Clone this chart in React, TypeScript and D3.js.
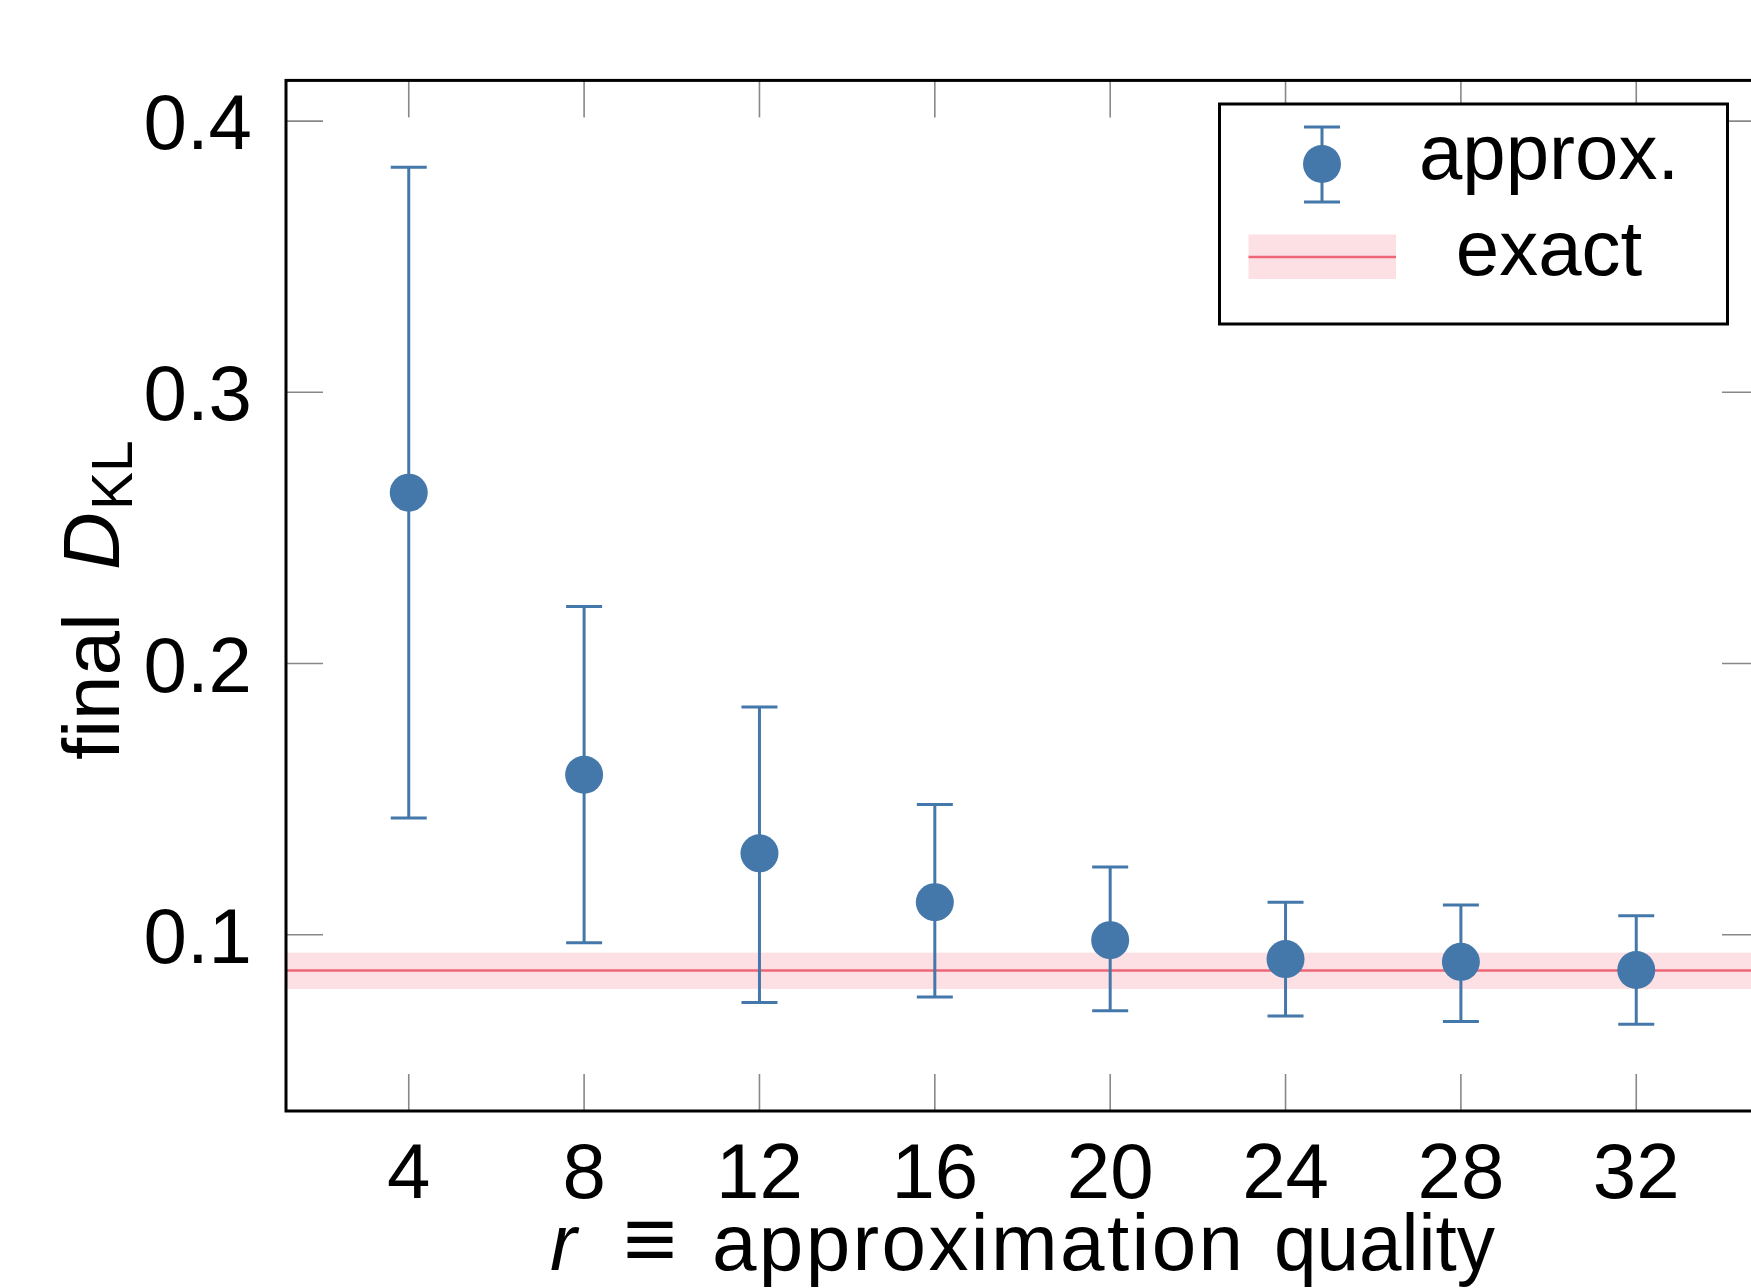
import { useEffect } from 'react';
import * as d3 from 'd3';

// approximation quality r and final KL divergence (mean with error bars)
const rValues = [4, 8, 12, 16, 20, 24, 28, 32];
const dklMean = [0.263, 0.159, 0.13, 0.112, 0.098, 0.091, 0.09, 0.087];
const dklUpper = [0.383, 0.221, 0.184, 0.148, 0.125, 0.112, 0.111, 0.107];
const dklLower = [0.143, 0.097, 0.075, 0.077, 0.072, 0.07, 0.068, 0.067];

// exact reference value and its band
const exactValue = [0.0868];
const exactBand = [0.08, 0.0934];

const xTicks = [4, 8, 12, 16, 20, 24, 28, 32];
const yTicks = [0.1, 0.2, 0.3, 0.4];

const W = 1751;
const H = 1288;
const BLUE = '#4477aa';
const RED = '#ee6677';
const FONT = '"Liberation Sans", Arial, sans-serif';

const App = () => {
  useEffect(() => {
    document.body.style.margin = '0';
    document.body.style.overflow = 'hidden';
  }, []);

  const x = d3.scaleLinear().domain([1.2, 34.8]).range([286, 1759]);
  const y = d3.scaleLinear().domain([0.035, 0.415]).range([1111, 80.4]);

  const [x0, x1] = x.range();
  const [y0, y1] = y.range();
  const tickLen = 37;
  const capW = 18;
  const rad = 19;

  const line = d3.line<[number, number]>().x(d => d[0]).y(d => d[1]);

  // legend geometry
  const lg = { x: 1219.5, y: 104, w: 508, h: 220 };
  const lgMarkX = 1322;
  const lgTextX = 1549;

  return (
    <svg width={W} height={H} style={{ display: 'block', background: '#fff' }} fontFamily={FONT}>
      <rect x={0} y={0} width={W} height={H} fill="#fff" />

      {/* ticks (inside, both sides) */}
      <g stroke="#888" strokeWidth={1.6}>
        {xTicks.map(t => (
          <g key={'xt' + t}>
            <line x1={x(t)} x2={x(t)} y1={y0} y2={y0 - tickLen} />
            <line x1={x(t)} x2={x(t)} y1={y1} y2={y1 + tickLen} />
          </g>
        ))}
        {yTicks.map(t => (
          <g key={'yt' + t}>
            <line x1={x0} x2={x0 + tickLen} y1={y(t)} y2={y(t)} />
            <line x1={x1} x2={x1 - tickLen} y1={y(t)} y2={y(t)} />
          </g>
        ))}
      </g>

      {/* exact band and line */}
      <rect
        x={x0}
        width={x1 - x0}
        y={y(exactBand[1])}
        height={y(exactBand[0]) - y(exactBand[1])}
        fill={RED}
        fillOpacity={0.2}
      />
      {exactValue.map((v, i) => (
        <path
          key={'ex' + i}
          d={line([[x0, y(v)], [x1, y(v)]]) || ''}
          stroke={RED}
          strokeWidth={2.6}
          fill="none"
        />
      ))}

      {/* error bars and points */}
      <g stroke={BLUE} strokeWidth={3} fill="none">
        {rValues.map((r, i) => (
          <g key={'eb' + r}>
            <line x1={x(r)} x2={x(r)} y1={y(dklLower[i])} y2={y(dklUpper[i])} />
            <line x1={x(r) - capW} x2={x(r) + capW} y1={y(dklLower[i])} y2={y(dklLower[i])} />
            <line x1={x(r) - capW} x2={x(r) + capW} y1={y(dklUpper[i])} y2={y(dklUpper[i])} />
          </g>
        ))}
      </g>
      <g fill={BLUE}>
        {rValues.map((r, i) => (
          <circle key={'pt' + r} cx={x(r)} cy={y(dklMean[i])} r={rad} />
        ))}
      </g>

      {/* axis frame */}
      <rect x={x0} y={y1} width={x1 - x0} height={y0 - y1} fill="none" stroke="#000" strokeWidth={3} />

      {/* tick labels */}
      <g fontSize={78} fill="#000">
        {xTicks.map(t => (
          <text key={'xl' + t} x={x(t)} y={1198} textAnchor="middle">
            {t}
          </text>
        ))}
        {yTicks.map(t => (
          <text key={'yl' + t} x={252} y={y(t) + 28} textAnchor="end">
            {d3.format('.1f')(t)}
          </text>
        ))}
      </g>

      {/* x axis label */}
      <g fontSize={80} fill="#000">
        <text x={550} y={1270} fontStyle="italic">r</text>
        <text x={623} y={1268} fontSize={86} textLength={54} lengthAdjust="spacingAndGlyphs">≡</text>
        <text x={712} y={1270} textLength={531} lengthAdjust="spacing">approximation</text>
        <text x={1274} y={1270} textLength={221} lengthAdjust="spacingAndGlyphs">quality</text>
      </g>

      {/* y axis label */}
      <text transform="translate(119, 760) rotate(-90)" fontSize={80} fill="#000">
        <tspan x={0}>final</tspan>
        <tspan x={190} fontStyle="italic">D</tspan>
        <tspan x={250} dy={13} fontSize={57}>KL</tspan>
      </text>

      {/* legend */}
      <rect x={lg.x} y={lg.y} width={lg.w} height={lg.h} fill="#fff" stroke="#000" strokeWidth={3} />
      <g stroke={BLUE} strokeWidth={3}>
        <line x1={lgMarkX} x2={lgMarkX} y1={127} y2={202} />
        <line x1={lgMarkX - capW} x2={lgMarkX + capW} y1={127} y2={127} />
        <line x1={lgMarkX - capW} x2={lgMarkX + capW} y1={202} y2={202} />
      </g>
      <circle cx={lgMarkX} cy={164} r={rad} fill={BLUE} />
      <rect x={1248.5} y={234.5} width={147.5} height={44.5} fill={RED} fillOpacity={0.2} />
      <line x1={1248.5} x2={1396} y1={257} y2={257} stroke={RED} strokeWidth={2.6} />
      <g fontSize={78} fill="#000" textAnchor="middle">
        <text x={lgTextX} y={179}>approx.</text>
        <text x={lgTextX} y={275}>exact</text>
      </g>
    </svg>
  );
};

export default App;
